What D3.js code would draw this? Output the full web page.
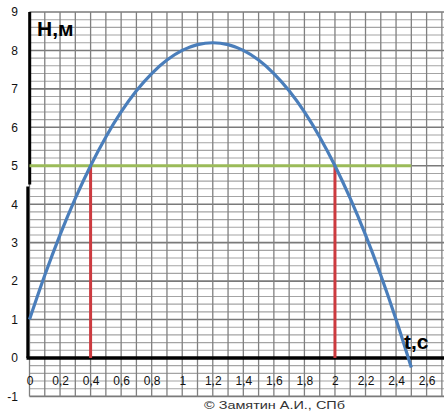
<!DOCTYPE html>
<html><head><meta charset="utf-8">
<script src="https://cdn.jsdelivr.net/npm/d3@7"></script>
<style>
html,body{margin:0;padding:0;background:#fff;}
svg{display:block;}
text{font-family:"Liberation Sans",Arial,sans-serif;}
</style></head>
<body>
<svg id="c" width="444" height="420"></svg>
<script>
// ---- data ----
const tValues = [0,0.1,0.2,0.3,0.4,0.5,0.6,0.7,0.8,0.9,1.0,1.1,1.2,1.3,1.4,1.5,1.6,1.7,1.8,1.9,2.0,2.1,2.2,2.3,2.4,2.5];
const hValues = [1,2.15,3.2,4.15,5,5.75,6.4,6.95,7.4,7.75,8.0,8.15,8.2,8.15,8.0,7.75,7.4,6.95,6.4,5.75,5.0,4.15,3.2,2.15,1.0,-0.25];
const levelH = 5;                 // green horizontal line
const levelT = [0, 2.5];          // its extent in t
const crossT = [0.4, 2.0];        // red verticals
const xTickValues = [0,0.2,0.4,0.6,0.8,1,1.2,1.4,1.6,1.8,2,2.2,2.4,2.6];
const xTickLabels = ["0","0,2","0,4","0,6","0,8","1","1,2","1,4","1,6","1,8","2","2,2","2,4","2,6"];
const yTickValues = [-1,0,1,2,3,4,5,6,7,8,9];
const yTickLabels = ["-1","0","1","2","3","4","5","6","7","8","9"];
const yTitle = "H,м", xTitle = "t,c", credit = "© Замятин А.И., СПб";

const svg = d3.select("#c");
const x = d3.scaleLinear().domain([0, 2.6]).range([29.5, 426.6]);
const y = d3.scaleLinear().domain([-1, 9]).range([396.4, 12]);

// grid
const g = svg.append("g");
const xGrid = d3.range(0, 28).map(i => i / 10);
const yMinor = d3.range(-5, 46).map(i => i / 5);
g.selectAll("line.hm").data(yMinor).join("line")
  .attr("x1", x(0)).attr("x2", 444)
  .attr("y1", d => y(d)).attr("y2", d => y(d))
  .attr("stroke", d => Math.abs(d - Math.round(d)) < 1e-6 ? "#7a7a7a" : "#a4a4a4")
  .attr("stroke-width", d => Math.abs(d - Math.round(d)) < 1e-6 ? 1.6 : 1.1);
g.selectAll("line.v").data(xGrid).join("line")
  .attr("x1", d => x(d)).attr("x2", d => x(d))
  .attr("y1", y(9)).attr("y2", y(-1))
  .attr("stroke", "#808080").attr("stroke-width", 1.3);

// axes lines
svg.append("line").attr("x1", 29.7).attr("x2", 29.7).attr("y1", y(9)).attr("y2", 184.5)
  .attr("stroke", "#000").attr("stroke-width", 3);
svg.append("line").attr("x1", 27.8).attr("x2", 27.8).attr("y1", 186.5).attr("y2", y(0))
  .attr("stroke", "#000").attr("stroke-width", 3);
svg.append("line").attr("x1", 26.5).attr("x2", 444).attr("y1", y(0)).attr("y2", y(0))
  .attr("stroke", "#000").attr("stroke-width", 3.4);

// tick labels via axes
const xAxis = d3.axisBottom(x).tickValues(xTickValues)
  .tickFormat((d, i) => xTickLabels[i]).tickSize(0).tickPadding(0);
const xa = svg.append("g").attr("transform", `translate(0,${385 - 9})`).call(xAxis);
xa.select(".domain").remove();
xa.selectAll("text").attr("font-size", 12).attr("fill", "#111")
  .attr("font-family", "'Liberation Sans',Arial,sans-serif").attr("dy", "0.71em");

const yAxis = d3.axisLeft(y).tickValues(yTickValues)
  .tickFormat((d, i) => yTickLabels[i]).tickSize(0).tickPadding(0);
const ya = svg.append("g").attr("transform", "translate(18,0)").call(yAxis);
ya.select(".domain").remove();
ya.selectAll("text").attr("font-size", 12).attr("fill", "#111")
  .attr("font-family", "'Liberation Sans',Arial,sans-serif");

// green level line
svg.append("line").attr("x1", x(levelT[0])).attr("x2", x(levelT[1]))
  .attr("y1", y(levelH)).attr("y2", y(levelH))
  .attr("stroke", "#9bbb59").attr("stroke-width", 3);

// red verticals
svg.selectAll("line.red").data(crossT).join("line")
  .attr("x1", d => x(d)).attr("x2", d => x(d))
  .attr("y1", y(0)).attr("y2", y(levelH))
  .attr("stroke", "#cc3a3f").attr("stroke-width", 3);

// curve
const pts = tValues.map((t, i) => [t, hValues[i]]);
svg.append("path").datum(pts)
  .attr("d", d3.line().x(d => x(d[0])).y(d => y(d[1])).curve(d3.curveMonotoneX))
  .attr("fill", "none").attr("stroke", "#4a7ebb").attr("stroke-width", 3.2)
  .attr("stroke-linejoin", "round");

// titles
svg.append("text").attr("x", 37).attr("y", 36).text(yTitle)
  .attr("font-size", 21).attr("font-weight", "bold").attr("fill", "#000");
svg.append("text").attr("x", 404).attr("y", 349).text(xTitle)
  .attr("font-size", 21).attr("font-weight", "bold").attr("fill", "#000");
svg.append("text").attr("x", 204).attr("y", 408.5).text(credit)
  .attr("font-size", 10).attr("fill", "#333")
  .attr("textLength", 141).attr("lengthAdjust", "spacingAndGlyphs");
</script>
</body></html>
